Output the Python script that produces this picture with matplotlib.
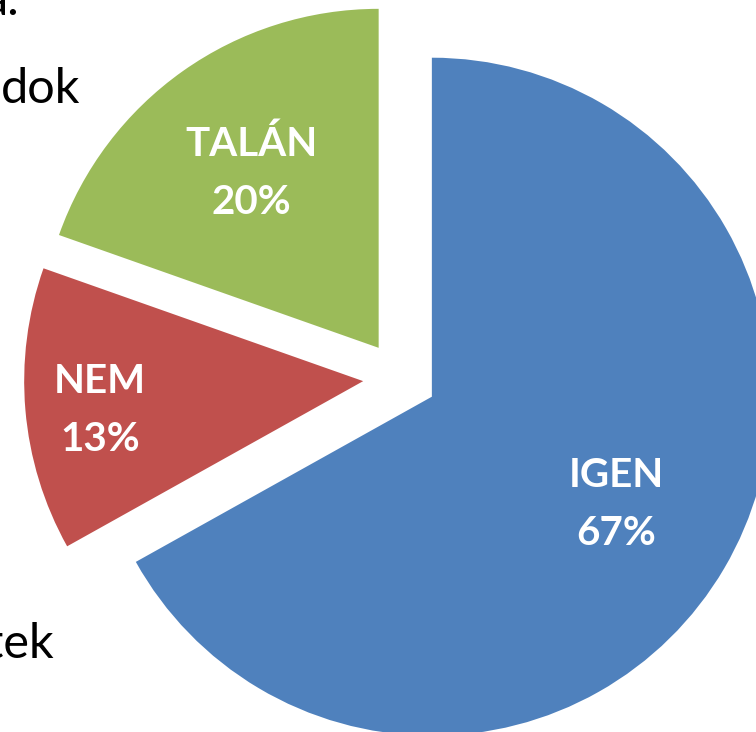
import numpy as np
import matplotlib
matplotlib.use("Agg")
import matplotlib.pyplot as plt

# chart data (wedge sizes, labels show rounded %)
labels = ["IGEN", "NEM", "TALÁN"]
shares = [66.9, 13.5, 19.6]
pct_labels = [67, 13, 20]
colors = ["#4F81BD", "#C0504D", "#9BBB59"]

# bits of the surrounding slide text that show at the left edge
bg_texts = [("a.", 19, 15), ("dok", 80, 103), ("tek", 54, 658)]

W, H = 756, 732
R = 339.0                 # pie radius in px
ox, oy = 400.0, 378.0     # pie centre in px (from top-left)

fig = plt.figure(figsize=(W / 100, H / 100), dpi=100)
ax = fig.add_axes([0, 0, 1, 1])

explode = [0.109] * len(shares)
wedges, _ = ax.pie(shares, colors=colors, startangle=90, counterclock=False,
                   explode=explode, radius=1.0,
                   wedgeprops=dict(linewidth=0))

# label distance from wedge tip (fraction of radius) and a small px nudge
label_dist = [0.63, 0.78, 0.65]
label_nudge = [(0, 0), (0, -7), (0, -5)]
for w, lab, pct, dist, (nx, ny) in zip(wedges, labels, pct_labels,
                                       label_dist, label_nudge):
    mid = np.deg2rad((w.theta1 + w.theta2) / 2)
    cx, cy = w.center
    ax.text(cx + dist * np.cos(mid) + nx / R, cy + dist * np.sin(mid) + ny / R,
            f"{lab}\n{pct}%", ha="center", va="center", color="white",
            fontsize=29, fontweight="bold", family="Lato", linespacing=1.7)

# crop the view like the reference
ax.set_xlim(-ox / R, (W - ox) / R)
ax.set_ylim((oy - H) / R, oy / R)
ax.set_aspect("auto")
ax.axis("off")

for txt, x, y in bg_texts:
    fig.text(x / W, 1 - y / H, txt, ha="right", va="baseline",
             fontsize=35, family="Lato", color="black")

fig.savefig("out.png", dpi=100)
